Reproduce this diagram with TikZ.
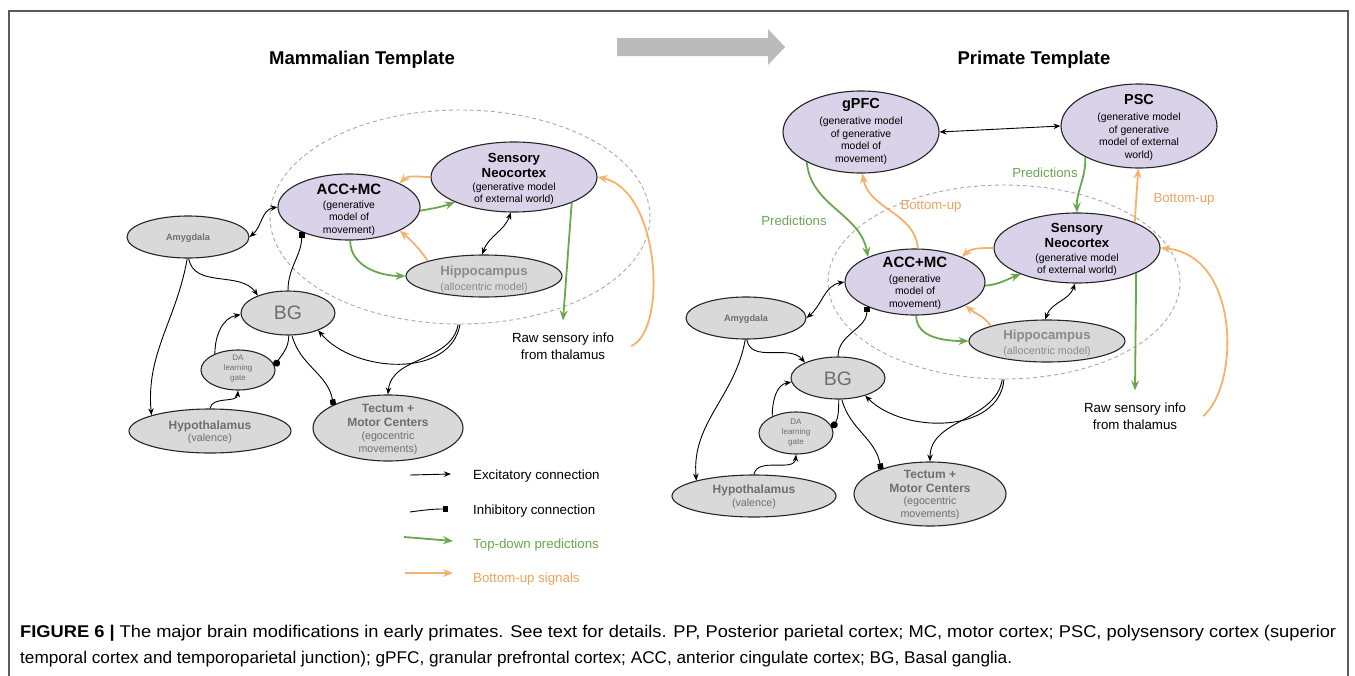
\documentclass[tikz,border=0pt]{standalone}
\usepackage{fontspec}
\setmainfont{Liberation Sans}
\usetikzlibrary{shapes.geometric,arrows.meta}
\definecolor{lav}{HTML}{D9D2E9}
\definecolor{gfill}{HTML}{D9D9D9}
\definecolor{cGreen}{HTML}{6AA84F}
\definecolor{cOrange}{HTML}{F6B26B}
\definecolor{tOrange}{HTML}{EFA35C}
\definecolor{dgray}{HTML}{6E6E6E}
\definecolor{hipgray}{HTML}{8A8A8A}
\definecolor{dashgray}{HTML}{AAAAAA}
\definecolor{arrowgray}{HTML}{BBBBBB}
\newcommand\fs[2]{\fontsize{#1}{#2}\selectfont}
\newsavebox\capbox
\newcommand\fitline[2]{\sbox\capbox{#2}\pgfmathsetmacro\capratio{#1/\the\wd\capbox}\scalebox{\capratio}[1]{\usebox\capbox}}
\begin{document}
\begin{tikzpicture}[x=1pt,y=1pt,
  ell/.style={ellipse, draw=black!85, line width=1.1pt, inner sep=0pt},
  pur/.style={ell, fill=lav},
  gry/.style={ell, fill=gfill},
  dashell/.style={ellipse, draw=dashgray, dash pattern=on 4pt off 3pt, line width=0.9pt, inner sep=0pt},
  txt/.style={inner sep=0pt, align=center},
  tAcc/.style={txt, font=\bfseries\fs{15}{17}},
  tSen/.style={txt, font=\bfseries\fs{13.2}{15}},
  tP/.style={txt, font=\bfseries\fs{14.5}{17}},
  sub/.style={txt, font=\fs{10.4}{12.6}},
  tHip/.style={txt, font=\bfseries\fs{13.2}{15}, text=hipgray},
  sHip/.style={txt, font=\fs{10.7}{13}, text=hipgray},
  tG/.style={txt, font=\bfseries\fs{12}{14}, text=dgray},
  sG/.style={txt, font=\fs{10.7}{13}, text=dgray},
  tAmy/.style={txt, font=\bfseries\fs{9.2}{11}, text=dgray},
  tBG/.style={txt, font=\fs{19.5}{22}, text=dgray},
  tDA/.style={txt, font=\fs{8}{10}, text=dgray},
  title/.style={txt, font=\bfseries\fs{18.5}{21}},
  raw/.style={align=center, font=\fs{13.3}{17}, inner xsep=17pt, inner ysep=12pt},
  lgtext/.style={anchor=west, inner sep=0pt, font=\fs{13.3}{16}},
  lblG/.style={txt, font=\fs{13.2}{15}, text=cGreen},
  lblO/.style={txt, font=\fs{13.2}{15}, text=tOrange},
  exc/.style={draw=black, line width=0.9pt, -{Stealth[length=7pt,width=5.5pt]}},
  bid/.style={draw=black, line width=0.9pt, {Stealth[length=7pt,width=5.5pt]}-{Stealth[length=7pt,width=5.5pt]}},
  inh/.style={draw=black, line width=0.9pt, -{Square[length=5.5pt,width=5.5pt]}},
  dotend/.style={draw=black, line width=0.9pt, -{Circle[length=7pt]}},
  gArr/.style={draw=cGreen, line width=1.8pt, -{Stealth[length=10pt,width=8pt,inset=3.5pt]}},
  oArr/.style={draw=cOrange, line width=1.8pt, -{Stealth[length=10pt,width=8pt,inset=3.5pt]}}
]
\useasboundingbox (0,0) rectangle (1355,-675);
\fill[white] (0,0) rectangle (1355,-675);
\draw[gray!70!black, line width=1.5pt] (9,-690) -- (9,-11) -- (1348,-11) -- (1348,-690);

% big arrow
\fill[arrowgray] (617,-38) -- (768,-38) -- (768,-29) -- (785,-47) -- (768,-65) -- (768,-56) -- (617,-56) -- cycle;

% titles
\node[title] (ttlL) at (362,-60) {Mammalian Template};
\node[title] (ttlR) at (1034,-60) {Primate Template};

% dashed ellipses
\node[dashell, minimum width=380pt, minimum height=214pt] (dashL) at (460,-217) {};
\node[dashell, minimum width=352pt, minimum height=194pt] (dashR) at (1004,-282) {};

% ---------- left nodes ----------
\node[pur, minimum width=142pt, minimum height=66pt] (accL) at (349,-207) {};
\node[pur, minimum width=166pt, minimum height=70pt] (senL) at (514,-177) {};
\node[gry, minimum width=156pt, minimum height=42pt] (hipL) at (484,-276) {};
\node[gry, minimum width=122pt, minimum height=42pt] (amyL) at (188,-237) {};
\node[gry, minimum width=94pt, minimum height=44pt] (bgL) at (288,-313) {};
\node[gry, minimum width=74pt, minimum height=40pt] (daL) at (238,-370) {};
\node[gry, minimum width=162pt, minimum height=44pt] (hypL) at (210,-431) {};
\node[gry, minimum width=150pt, minimum height=66pt] (tecL) at (388,-428) {};

\node[tAcc] (accLa) at (349,-189) {ACC+MC};
\node[sub] (accLb) at (349,-218) {(generative\\model of\\movement)};
\node[tSen] (senLa) at (514,-165) {Sensory\\Neocortex};
\node[sub] (senLb) at (514,-194) {(generative model\\of external world)};
\node[tHip] (hipLa) at (484,-272) {Hippocampus};
\node[sHip] (hipLb) at (484,-288) {(allocentric model)};
\node[tAmy] (amyLa) at (188,-238) {Amygdala};
\node[tBG] (bgLa) at (288,-313) {BG};
\node[tDA] (daLa) at (238,-369) {DA\\learning\\gate};
\node[tG] (hypLa) at (210,-426) {Hypothalamus};
\node[sG] (hypLb) at (210,-439) {(valence)};
\node[tG] (tecLa) at (388,-415) {Tectum +\\Motor Centers};
\node[sG] (tecLb) at (388,-443) {(egocentric\\movements)};
\node[raw] (rawL) at (563,-346) {Raw sensory info\\from thalamus};

% ---------- right nodes ----------
\node[pur, minimum width=156pt, minimum height=82pt] (gpfc) at (861,-132) {};
\node[pur, minimum width=156pt, minimum height=84pt] (psc) at (1139,-126) {};
\node[pur, minimum width=166pt, minimum height=70pt] (senR) at (1077,-248) {};
\node[pur, minimum width=140pt, minimum height=66pt] (accR) at (915,-282) {};
\node[gry, minimum width=156pt, minimum height=42pt] (hipR) at (1047,-341) {};
\node[gry, minimum width=120pt, minimum height=42pt] (amyR) at (746,-318) {};
\node[gry, minimum width=94pt, minimum height=42pt] (bgR) at (838,-378) {};
\node[gry, minimum width=74pt, minimum height=42pt] (daR) at (796,-433) {};
\node[gry, minimum width=164pt, minimum height=42pt] (hypR) at (754,-496) {};
\node[gry, minimum width=152pt, minimum height=64pt] (tecR) at (930,-494) {};

\node[tP] (gpfca) at (861,-105) {gPFC};
\node[sub] (gpfcb) at (861,-141) {(generative model\\of generative\\model of\\movement)};
\node[tP] (psca) at (1139,-100) {PSC};
\node[sub] (pscb) at (1139,-137) {(generative model\\of generative\\model of external\\world)};
\node[tSen] (senRa) at (1077,-235) {Sensory\\Neocortex};
\node[sub] (senRb) at (1077,-265) {(generative model\\of external world)};
\node[tAcc] (accRa) at (915,-262) {ACC+MC};
\node[sub] (accRb) at (915,-292) {(generative\\model of\\movement)};
\node[tHip] (hipRa) at (1047,-336) {Hippocampus};
\node[sHip] (hipRb) at (1047,-352) {(allocentric model)};
\node[tAmy] (amyRa) at (746,-319) {Amygdala};
\node[tBG] (bgRa) at (838,-379) {BG};
\node[tDA] (daRa) at (796,-433) {DA\\learning\\gate};
\node[tG] (hypRa) at (754,-490) {Hypothalamus};
\node[sG] (hypRb) at (754,-504) {(valence)};
\node[tG] (tecRa) at (930,-481) {Tectum +\\Motor Centers};
\node[sG] (tecRb) at (930,-508) {(egocentric\\movements)};
\node[raw] (rawR) at (1135,-416) {Raw sensory info\\from thalamus};

\node[lblG] (predA) at (794,-221) {Predictions};
\node[lblO] (buA) at (931,-206) {Bottom-up};
\node[lblG] (predB) at (1045,-173) {Predictions};
\node[lblO] (buB) at (1184,-199) {Bottom-up};

% ---------- left edges ----------
\draw[bid] (amyL.east) to[out=40,in=190] (accL.west);
\draw[inh] (bgL.north) to[out=90,in=-90] (accL.208);
\draw[exc] (amyL.-88) to[out=-80,in=125] (bgL.150);
\draw[exc] (amyL.-92) to[out=-100,in=95] (hypL.165);
\draw[exc] (daL.145) to[out=90,in=190] (bgL.182);
\draw[dotend] (bgL.-88) to[out=-90,in=60] (daL.6);
\draw[exc] (hypL.north) to[out=80,in=-95] (daL.-90);
\draw[inh] (bgL.-80) to[out=-75,in=100] (tecL.157);
\draw[exc] (dashL.-90) to[out=-100,in=-50] (bgL.-30);
\draw[exc] (dashL.-91) to[out=-100,in=85] (tecL.north);
\draw[gArr] (accL.-3) to[out=10,in=200] (senL.203);
\draw[oArr] (senL.west) to[out=180,in=45] (accL.25);
\draw[gArr] (accL.-88) to[out=-90,in=180] (hipL.west);
\draw[oArr] (hipL.165) to[out=125,in=-40] (accL.-25);
\draw[bid] (senL.-95) to[out=-110,in=70] (hipL.95);
\draw[gArr] (senL.-24) -- (rawL.north);
\draw[oArr] (rawL.east) .. controls (668,-330) and (660,-190) .. (senL.east);

% ---------- right edges ----------
\draw[bid] (gpfc.east) -- (psc.west);
\draw[gArr] (gpfc.209) to[out=-85,in=100] (accR.152);
\draw[oArr] (accR.85) to[out=95,in=-80] (gpfc.-88);
\draw[gArr] (psc.210) to[out=-88,in=92] (senR.north);
\draw[oArr] (senR.24) -- (psc.-91);
\draw[bid] (amyR.east) to[out=40,in=190] (accR.west);
\draw[inh] (bgR.north) to[out=90,in=-90] (accR.207);
\draw[exc] (amyR.-88) to[out=-80,in=130] (bgR.155);
\draw[exc] (amyR.-92) to[out=-100,in=95] (hypR.165);
\draw[exc] (daR.145) to[out=90,in=190] (bgR.185);
\draw[dotend] (bgR.-88) to[out=-90,in=60] (daR.8);
\draw[exc] (hypR.north) to[out=80,in=-95] (daR.-90);
\draw[inh] (bgR.-80) to[out=-75,in=100] (tecR.153);
\draw[exc] (dashR.-90) to[out=-95,in=-45] (bgR.-33);
\draw[exc] (dashR.-91) to[out=-100,in=90] (tecR.north);
\draw[gArr] (accR.-3) to[out=5,in=200] (senR.205);
\draw[oArr] (senR.west) to[out=180,in=45] (accR.28);
\draw[gArr] (accR.-88) to[out=-90,in=180] (hipR.west);
\draw[oArr] (hipR.165) to[out=125,in=-40] (accR.-25);
\draw[bid] (senR.-93) to[out=-110,in=70] (hipR.95);
\draw[gArr] (senR.-23) -- (rawR.north);
\draw[oArr] (rawR.east) .. controls (1240,-385) and (1240,-255) .. (senR.east);

% ---------- legend ----------
\coordinate (lg1a) at (410,-475); \coordinate (lg1b) at (451,-474);
\coordinate (lg2a) at (410,-512); \coordinate (lg2b) at (448,-509);
\coordinate (lg3a) at (404,-537); \coordinate (lg3b) at (453,-541);
\coordinate (lg4a) at (405,-573); \coordinate (lg4b) at (453,-573);
\draw[exc] (lg1a) -- (lg1b);
\draw[inh] (lg2a) to[out=8,in=180] (lg2b);
\draw[gArr] (lg3a) -- (lg3b);
\draw[oArr] (lg4a) -- (lg4b);
\node[lgtext] (lgt1) at (473,-476) {Excitatory connection};
\node[lgtext] (lgt2) at (473,-511) {Inhibitory connection};
\node[lgtext, text=cGreen] (lgt3) at (473,-545) {Top-down predictions};
\node[lgtext, text=tOrange] (lgt4) at (473,-579) {Bottom-up signals};

% ---------- caption ----------
\node[anchor=base west, inner sep=0pt, font=\fs{17}{20}] (cap1) at (20,-637)
  {\fitline{1316}{\textbf{FIGURE 6} \textbf{|} The major brain modifications in early primates. See text for details. PP, Posterior parietal cortex; MC, motor cortex; PSC, polysensory cortex (superior}};
\node[anchor=base west, inner sep=0pt, font=\fs{17}{20}] (cap2) at (20,-663)
  {\fitline{992}{temporal cortex and temporoparietal junction); gPFC, granular prefrontal cortex; ACC, anterior cingulate cortex; BG, Basal ganglia.}};
\end{tikzpicture}
\end{document}
